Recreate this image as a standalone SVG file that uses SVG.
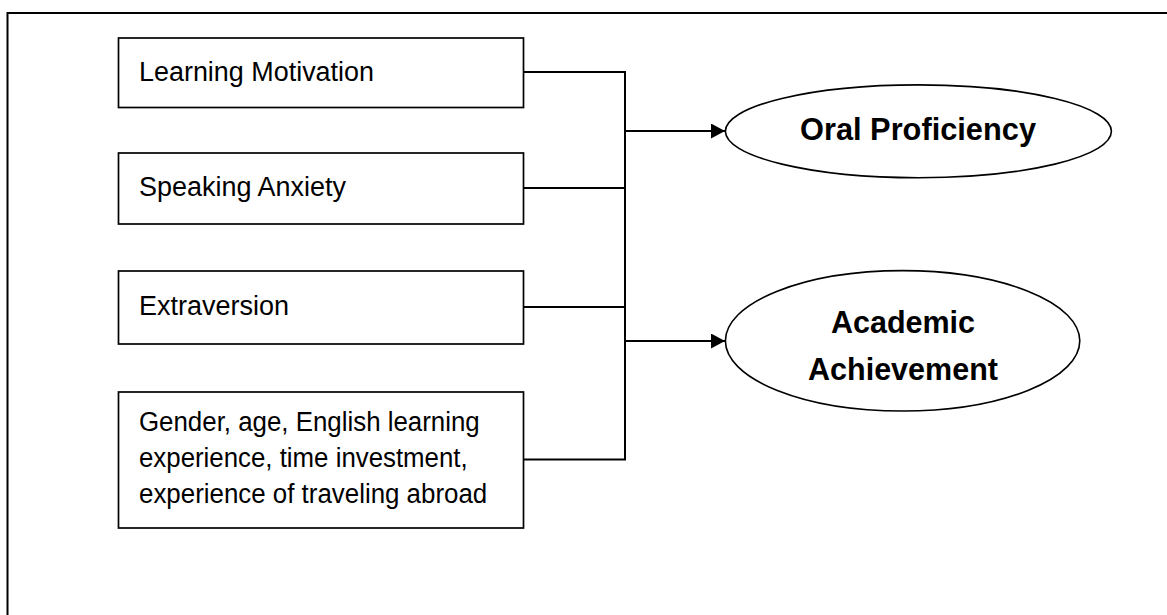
<svg xmlns="http://www.w3.org/2000/svg" width="1167" height="615" viewBox="0 0 1167 615">
<style>
.box{fill:#fff;stroke:#000;stroke-width:1.7}
.ell{fill:#fff;stroke:#000;stroke-width:1.6}
.t{font-family:"Liberation Sans",Arial,sans-serif;font-size:27px;fill:#000}
.b{font-family:"Liberation Sans",Arial,sans-serif;font-size:30.5px;font-weight:bold;fill:#000;text-anchor:middle}
.c{fill:none;stroke:#000;stroke-width:2}
</style>
<defs>
<marker id="arr" markerUnits="userSpaceOnUse" markerWidth="16" markerHeight="16" refX="14" refY="7.5" orient="auto">
<path d="M0,0 L14,7.5 L0,15 Z" fill="#000"/>
</marker>
</defs>
<rect x="0" y="0" width="1167" height="615" fill="#fff"/>
<rect id="frame" x="7.5" y="13" width="1300" height="800" fill="none" stroke="#000" stroke-width="2"/>
<g id="connectors">
<path class="c" d="M523,72 H625 M523,188 H625 M523,307 H625 M523,459.5 H625 M625,71 V460.5"/>
<path class="c" d="M625,131 H725" marker-end="url(#arr)"/>
<path class="c" d="M625,341 H725" marker-end="url(#arr)"/>
</g>
<g id="n1"><rect class="box" x="118.5" y="38" width="405" height="69.5"/><text class="t" x="139" y="81" textLength="235" lengthAdjust="spacingAndGlyphs">Learning Motivation</text></g>
<g id="n2"><rect class="box" x="118.5" y="153" width="405" height="71"/><text class="t" x="139" y="195.5" textLength="207" lengthAdjust="spacingAndGlyphs">Speaking Anxiety</text></g>
<g id="n3"><rect class="box" x="118.5" y="271" width="405" height="73"/><text class="t" x="139" y="314.5" textLength="150" lengthAdjust="spacingAndGlyphs">Extraversion</text></g>
<g id="n4"><rect class="box" x="118.5" y="392" width="405" height="136"/>
<text class="t" x="139" y="430.7" textLength="340.7" lengthAdjust="spacingAndGlyphs">Gender, age, English learning</text>
<text class="t" x="139" y="466.8" textLength="328.7" lengthAdjust="spacingAndGlyphs">experience, time investment,</text>
<text class="t" x="139" y="503" textLength="348.2" lengthAdjust="spacingAndGlyphs">experience of traveling abroad</text></g>
<g id="oral"><ellipse class="ell" cx="918.4" cy="131.3" rx="193" ry="46.4"/><text class="b" x="918" y="140" textLength="236" lengthAdjust="spacingAndGlyphs">Oral Proficiency</text></g>
<g id="academic"><ellipse class="ell" cx="902.6" cy="340.8" rx="177.2" ry="70.2"/><text class="b" x="903" y="333">Academic</text><text class="b" x="903" y="380">Achievement</text></g>
</svg>
